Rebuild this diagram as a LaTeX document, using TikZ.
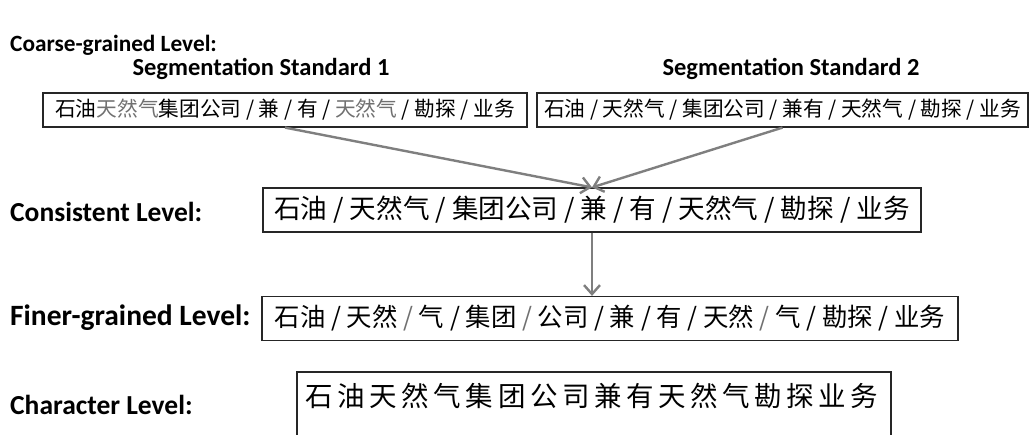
\documentclass[tikz,border=0pt]{standalone}
\usepackage{fontspec}
\setmainfont{Carlito}
\newfontfamily\cjk{Noto Sans CJK SC}
\usetikzlibrary{arrows.meta}
\definecolor{arrgray}{HTML}{7F7F7F}
\definecolor{txtgray}{HTML}{707070}
\tikzset{
  lvl/.style={anchor=west, inner sep=0pt, font=\bfseries\fontsize{27.5}{29}\selectfont},
  std/.style={inner sep=0pt, font=\bfseries\fontsize{24.5}{26}\selectfont},
  segbox/.style={draw=black!85, line width=1.2pt, inner sep=0pt, align=center},
  conn/.style={draw=arrgray, line width=2.4pt, -{Straight Barb[length=9pt,width=16pt,line width=2.4pt]}},
}
\newcommand{\gs}{{\color{txtgray}/}}
\begin{document}
\begin{tikzpicture}[x=1pt,y=-1pt]
\useasboundingbox (0,0) rectangle (1030,435);
\clip (0,0) rectangle (1030,435);
\node[lvl, font=\bfseries\fontsize{23.3}{25}\selectfont] (coarse) at (10,45) {Coarse-grained Level:};
\node[std] (std1) at (261,69) {Segmentation Standard 1};
\node[std] (std2) at (791,69) {Segmentation Standard 2};
\node[segbox, minimum width=484, minimum height=34, font=\cjk\fontsize{20.7}{22}\selectfont] (b1) at (285,110)
  {石油{\color{txtgray}天然气}集团公司 / 兼 / 有 / {\color{txtgray}天然气} / 勘探 / 业务};
\node[segbox, minimum width=491, minimum height=34, font=\cjk\fontsize{20.7}{22}\selectfont] (b2) at (782.5,110)
  {石油 / 天然气 / 集团公司 / 兼有 / 天然气 / 勘探 / 业务};
\node[lvl] (conslbl) at (10,212) {Consistent Level:};
\node[segbox, minimum width=658, minimum height=44, font=\cjk\fontsize{26.6}{28}\selectfont] (cons) at (592,210)
  {石油 / 天然气 / 集团公司 / 兼 / 有 / 天然气 / 勘探 / 业务};
\node[lvl, font=\bfseries\fontsize{29.5}{31}\selectfont] (finelbl) at (10,318) {Finer-grained Level:};
\node[segbox, minimum width=696, minimum height=44, font=\cjk\fontsize{25.4}{27}\selectfont] (fine) at (610,318.5)
  {石油 / 天然 \gs{} 气 / 集团 \gs{} 公司 / 兼 / 有 / 天然 \gs{} 气 / 勘探 / 业务};
\node[lvl] (charlbl) at (10,405) {Character Level:};
\node[segbox, minimum width=594, minimum height=76, font=\cjk\fontsize{28}{30}\selectfont] (chr) at (594,410)
  {};
\node[inner sep=0pt, font=\cjk\fontsize{27.5}{30}\selectfont] (chrtxt) at (592,396)
  {石\,油\,天\,然\,气\,集\,团\,公\,司\,兼\,有\,天\,然\,气\,勘\,探\,业\,务};
\draw[conn] (b1.south) -- (cons.north);
\draw[conn] (b2.south) -- (cons.north);
\draw[conn] (cons.south) -- (cons.south |- fine.north);
\end{tikzpicture}
\end{document}
